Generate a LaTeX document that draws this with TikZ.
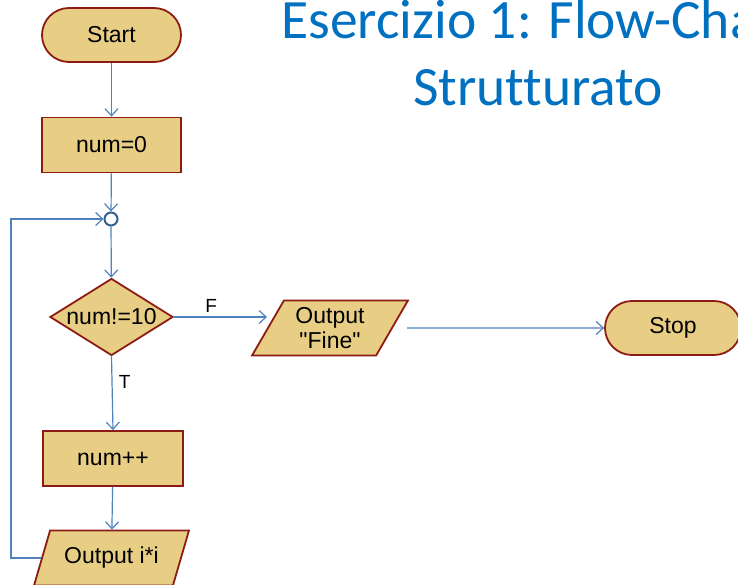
\documentclass[tikz,border=0pt]{standalone}
\usepackage{fontspec}
\setmainfont{Liberation Sans}
\newfontfamily\titlefont[Ligatures=NoCommon]{Carlito}
\usetikzlibrary{shapes.geometric,arrows.meta}
\definecolor{boxfill}{HTML}{E8CE84}
\definecolor{boxdraw}{HTML}{8C1C13}
\definecolor{linecol}{HTML}{4F81BD}
\definecolor{titlecol}{HTML}{0070C0}
\definecolor{juncol}{HTML}{365F91}
\begin{document}
\begin{tikzpicture}[x=1pt,y=-1pt,
  base/.style={fill=boxfill,draw=boxdraw,line width=1.8pt,inner sep=0pt,
    font=\fontsize{23}{25}\selectfont,align=center},
  term/.style={base,rounded corners=27pt,minimum height=54pt},
  proc/.style={base,rectangle,minimum width=139pt,minimum height=55pt},
  io/.style={base,trapezium,trapezium left angle=60,trapezium right angle=120,
    trapezium stretches=true,minimum width=156pt,minimum height=55pt},
  cond/.style={base,diamond,aspect=1.6,minimum width=123pt,minimum height=77pt},
  conn/.style={draw=linecol,line width=1.2pt,-{Straight Barb[length=7pt,width=13pt]}},
  lbl/.style={font=\fontsize{19}{22}\selectfont},
  ttl/.style={text=titlecol,font=\titlefont\fontsize{55.5}{60}\selectfont,anchor=base,inner sep=0pt}]
\useasboundingbox (0,0) rectangle (738,585);
\node[term,minimum width=139pt] (start) at (111.5,35) {Start};
\node[proc] (num0) at (111.5,145) {num=0};
\node[circle,draw=juncol,fill=white,line width=2pt,minimum size=13pt,inner sep=0pt] (junc) at (111,219) {};
\node[cond] (cond) at (111.5,317) {num!=10};
\node[io] (fine) at (330,328) {Output\\\textquotedbl Fine\textquotedbl};
\node[term,minimum width=136pt] (stop) at (673,328) {Stop};
\node[proc,minimum width=140pt] (incr) at (113,458.5) {num++};
\node[io,minimum width=155pt] (outi) at (111.5,558) {Output i*i};
\coordinate (loopc) at (11,400);
\node[ttl] (t1) at (538,39) {Esercizio 1: Flow-Chart};
\node[ttl] (t2) at (538,106) {Strutturato};
\draw[conn] (start) -- (num0);
\draw[conn] (num0) -- (junc);
\draw[conn] (junc) -- (cond);
\draw[conn] (cond.east) -- node[lbl,above,pos=0.4,yshift=1pt] {F} (cond.east -| fine.west);
\draw[conn] ([xshift=14pt]fine.east) -- (stop);
\draw[conn] (cond.south) -- node[lbl,right,pos=0.35,xshift=3pt] {T} (incr.north);
\draw[conn] (incr) -- (outi);
\draw[conn] (outi.west) -| (loopc) |- (junc.west);
\end{tikzpicture}
\end{document}
